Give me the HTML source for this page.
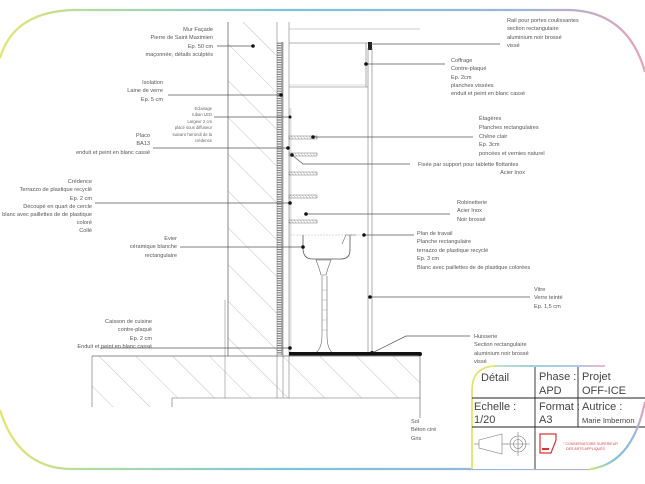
<!DOCTYPE html>
<html><head><meta charset="utf-8"><style>
html,body{margin:0;padding:0;background:#fff;}
svg{display:block;font-family:"Liberation Sans",sans-serif;}
.t{font-size:5.6px;fill:#555;}
.s{font-size:4.2px;fill:#666;}
.b{font-size:11px;fill:#444;}
.m{font-size:7.5px;fill:#444;}
</style></head><body>
<svg width="645" height="484" viewBox="0 0 645 484">
<defs>
<linearGradient id="g" x1="0" x2="1" y1="0" y2="0">
<stop offset="0" stop-color="#e4e66a"/><stop offset="0.12" stop-color="#b8dca0"/><stop offset="0.45" stop-color="#7cc3dc"/><stop offset="0.8" stop-color="#9ab8d8"/><stop offset="1" stop-color="#e6a2b8"/>
</linearGradient>
<pattern id="h" width="26" height="26" patternUnits="userSpaceOnUse" patternTransform="rotate(-45)">
<line x1="0" y1="0" x2="0" y2="26" stroke="#888" stroke-width="0.5"/></pattern>
<pattern id="ins" width="6" height="2.4" patternUnits="userSpaceOnUse">
<rect x="0.5" y="0.3" width="5" height="1.8" fill="none" stroke="#666" stroke-width="0.5"/></pattern>
<pattern id="sh" width="3" height="4" patternUnits="userSpaceOnUse"><line x1="0" y1="0" x2="3" y2="4" stroke="#999" stroke-width="0.5"/></pattern>
</defs>
<!-- frame -->
<path d="M0,58 Q14,11 75,10 L570,10 Q628,12 645,72" fill="none" stroke="url(#g)" stroke-width="2.2"/>
<path d="M0,410 Q18,468 70,469 L590,469 Q632,464 645,402" fill="none" stroke="url(#g)" stroke-width="2.2"/>

<!-- wall -->
<rect x="228" y="22" width="49" height="334" fill="url(#h)"/>
<line x1="228" y1="22" x2="228" y2="356" stroke="#555" stroke-width="0.7"/>
<line x1="225" y1="300" x2="225" y2="407" stroke="#777" stroke-width="0.5"/>
<rect x="277" y="42" width="6" height="313" fill="url(#ins)"/>
<line x1="277" y1="22" x2="277" y2="407" stroke="#666" stroke-width="0.5"/>
<line x1="283" y1="42" x2="283" y2="407" stroke="#666" stroke-width="0.5"/>
<line x1="289" y1="22" x2="289" y2="407" stroke="#666" stroke-width="0.5"/>
<rect x="289.5" y="108" width="2" height="245" fill="#e2e2e2"/>
<!-- coffrage -->
<line x1="289" y1="29" x2="420" y2="29" stroke="#999" stroke-width="0.6"/>
<line x1="289" y1="43" x2="368" y2="43" stroke="#666" stroke-width="0.6"/>
<line x1="289" y1="87" x2="368" y2="87" stroke="#777" stroke-width="0.6"/>
<line x1="289" y1="85" x2="366" y2="85" stroke="#bbb" stroke-width="0.5"/>
<line x1="366" y1="43" x2="366" y2="87" stroke="#777" stroke-width="0.6"/>
<rect x="368" y="42" width="4" height="8" fill="#222"/>
<line x1="368" y1="48" x2="368" y2="352" stroke="#777" stroke-width="0.6"/>
<line x1="372" y1="48" x2="372" y2="352" stroke="#777" stroke-width="0.6"/>
<!-- shelves -->
<g stroke="#777" stroke-width="0.5">
<rect x="289" y="136" width="28" height="3" fill="url(#sh)"/>
<rect x="289" y="153" width="28" height="3" fill="url(#sh)"/>
<rect x="289" y="172" width="28" height="3" fill="url(#sh)"/>
<rect x="289" y="195" width="28" height="3" fill="url(#sh)"/>
<rect x="289" y="220" width="28" height="3" fill="url(#sh)"/>
</g>
<!-- sink -->
<path d="M303,235 L303,250 Q304,259 312,259 L341,259 Q350,259 350,250 L350,235" fill="none" stroke="#555" stroke-width="0.8"/>
<line x1="290" y1="235" x2="365" y2="235" stroke="#bbb" stroke-width="0.5" stroke-dasharray="2,1"/>
<path d="M316,260 L331,260 L328,268 L326,275 L321,275 L319,268 Z" fill="none" stroke="#666" stroke-width="0.6"/>
<path d="M322,276 L322,335 Q322,350 314,354 L334,354 Q327,350 327,335 L327,276" fill="none" stroke="#666" stroke-width="0.6"/>
<g stroke="#999" stroke-width="0.4"><line x1="322" y1="290" x2="327" y2="290"/><line x1="322" y1="300" x2="327" y2="300"/><line x1="322" y1="310" x2="327" y2="310"/><line x1="322" y1="320" x2="327" y2="320"/><line x1="322" y1="330" x2="327" y2="330"/></g>
<path d="M342,244 L346,235 L356,235" fill="none" stroke="#666" stroke-width="0.6"/>

<!-- slab -->
<rect x="92" y="356" width="328" height="51" fill="url(#h)"/>
<rect x="172" y="398" width="248" height="12" fill="#fff"/>
<line x1="92" y1="356" x2="420" y2="356" stroke="#666" stroke-width="0.7"/>
<line x1="92" y1="356" x2="92" y2="407" stroke="#666" stroke-width="0.6"/>
<line x1="172" y1="398" x2="420" y2="398" stroke="#666" stroke-width="0.6"/>
<line x1="172" y1="398" x2="172" y2="407" stroke="#666" stroke-width="0.6"/>
<line x1="420" y1="356" x2="420" y2="418" stroke="#555" stroke-width="0.6"/>
<rect x="289" y="352" width="131" height="3.5" fill="#111"/>
<circle cx="420" cy="354" r="2" fill="#111"/>

<!-- leaders -->
<g stroke="#555" stroke-width="0.7" fill="none">
<line x1="217" y1="46" x2="253" y2="46"/>
<line x1="168" y1="95" x2="281" y2="95"/>
<line x1="214" y1="117" x2="290" y2="117"/>
<line x1="153" y1="148" x2="288" y2="148"/>
<line x1="95" y1="203" x2="290" y2="203"/>
<line x1="180" y1="247" x2="303" y2="247"/>
<line x1="100" y1="348" x2="290" y2="348"/>
<line x1="370" y1="44" x2="500" y2="44"/>
<line x1="366" y1="64" x2="445" y2="64"/>
<line x1="313" y1="137" x2="473" y2="137"/>
<polyline points="292,155 303,164 410,164"/>
<line x1="306" y1="214" x2="450" y2="214"/>
<line x1="364" y1="235" x2="414" y2="235"/>
<line x1="370" y1="297" x2="530" y2="297"/>
<polyline points="372,353 406,336 470,336"/>
</g>
<g fill="#111">
<circle cx="253" cy="46" r="1.8"/><circle cx="281" cy="95" r="1.8"/><circle cx="290" cy="117" r="1.5"/>
<circle cx="288" cy="148" r="1.8"/><circle cx="290" cy="203" r="1.8"/><circle cx="303" cy="247" r="1.8"/>
<circle cx="290" cy="348" r="1.8"/><circle cx="366" cy="64" r="1.8"/><circle cx="313" cy="137" r="1.8"/>
<circle cx="292" cy="155" r="1.8"/><circle cx="306" cy="214" r="1.8"/><circle cx="364" cy="235" r="1.8"/>
<circle cx="370" cy="297" r="1.8"/><circle cx="372" cy="353" r="2"/>
</g>

<!-- left labels -->
<g class="t" text-anchor="end">
<text x="213" y="31">Mur Façade</text><text x="213" y="39">Pierre de Saint Maximien</text><text x="213" y="48">Ep. 50 cm</text><text x="213" y="56">maçonnée, détails sculptés</text>
<text x="163" y="84">Isolation</text><text x="163" y="92">Laine de verre</text><text x="163" y="101">Ep. 5 cm</text>
<text x="150" y="137">Placo</text><text x="150" y="145">BA13</text><text x="150" y="154">enduit et peint en blanc cassé</text>
<text x="92" y="183">Crédence</text><text x="92" y="191">Terrazzo de plastique recyclé</text><text x="92" y="200">Ep. 2 cm</text><text x="92" y="208">Découpé en quart de cercle</text><text x="92" y="216">blanc avec paillettes de de plastique</text><text x="92" y="224">coloré</text><text x="92" y="232">Collé</text>
<text x="177" y="240">Evier</text><text x="177" y="248">céramique blanche</text><text x="177" y="257">rectangulaire</text>
<text x="152" y="323">Caisson de cuisine</text><text x="152" y="331">contre-plaqué</text><text x="152" y="340">Ep. 2 cm</text><text x="152" y="348">Enduit et peint en blanc cassé</text>
</g>
<g class="s" text-anchor="end">
<text x="212" y="110">Eclairage</text><text x="212" y="116">ruban LED</text><text x="212" y="123">Largeur 2 cm</text><text x="212" y="129">placé sous diffuseur</text><text x="212" y="136">suivant l'arrondi de la</text><text x="212" y="142">crédence</text>
</g>
<!-- right labels -->
<g class="t">
<text x="507" y="22">Rail pour portes coulissantes</text><text x="507" y="30">section rectangulaire</text><text x="507" y="39">aluminium noir brossé</text><text x="507" y="47">vissé</text>
<text x="451" y="62">Coffrage</text><text x="451" y="70">Contre-plaqué</text><text x="451" y="79">Ep. 2cm</text><text x="451" y="87">planches vissées</text><text x="451" y="95">enduit et peint en blanc cassé</text>
<text x="479" y="120">Étagères</text><text x="479" y="129">Planches rectangulaires</text><text x="479" y="138">Chêne clair</text><text x="479" y="146">Ep. 3cm</text><text x="479" y="155">poncées et vernies naturel</text>
<text x="418" y="166">Fixée par support pour tablette flottantes</text><text x="525" y="174" text-anchor="end">Acier Inox</text>
<text x="457" y="204">Robinetterie</text><text x="457" y="212">Acier Inox</text><text x="457" y="221">Noir brossé</text>
<text x="417" y="235">Plan de travail</text><text x="417" y="243">Planche rectangulaire</text><text x="417" y="252">terrazzo de plastique recyclé</text><text x="417" y="260">Ep. 3 cm</text><text x="417" y="269">Blanc avec paillettes de de plastique colorées</text>
<text x="534" y="291">Vitre</text><text x="534" y="299">Verre teinté</text><text x="534" y="308">Ep. 1,5 cm</text>
<text x="474" y="338">Huisserie</text><text x="474" y="346">Section rectangulaire</text><text x="474" y="355">aluminium noir brossé</text><text x="474" y="363">vissé</text>
<text x="411" y="423">Sol</text><text x="411" y="431">Béton ciré</text><text x="411" y="440">Gris</text>
</g>

<!-- title block -->
<rect x="472" y="367" width="175" height="102" fill="#fff"/>
<path d="M472,469 L472,390 Q472,367 495,366 L605,366" fill="none" stroke="url(#g)" stroke-width="1.6"/>
<path d="M472,469 L472,390 Q472,367 495,366" fill="none" stroke="#e2e46a" stroke-width="1.6"/>
<g stroke="#222" stroke-width="0.9">
<line x1="535" y1="367" x2="535" y2="469"/><line x1="578" y1="367" x2="578" y2="427"/>
<line x1="472" y1="398" x2="645" y2="398"/><line x1="472" y1="427" x2="645" y2="427"/>
</g>
<g class="b">
<text x="481" y="381">Détail</text><text x="539" y="380">Phase :</text><text x="539" y="394">APD</text>
<text x="582" y="380">Projet</text><text x="582" y="394">OFF-ICE</text>
<text x="474" y="410">Echelle :</text><text x="474" y="423">1/20</text>
<text x="539" y="410">Format :</text><text x="539" y="423">A3</text>
<text x="582" y="410">Autrice :</text>
</g>
<text x="582" y="423" class="m">Marie Imbernon</text>
<g stroke="#777" stroke-width="0.6" fill="none">
<path d="M479,440 L502,434 L502,454 L479,448 Z"/><line x1="474" y1="444" x2="479" y2="444"/><line x1="502" y1="444" x2="508" y2="444"/>
<circle cx="518" cy="444" r="8"/><circle cx="518" cy="444" r="4.5"/><line x1="506" y1="444" x2="530" y2="444"/><line x1="518" y1="432" x2="518" y2="456"/>
</g>
<path d="M540,434 L556,434 L556,440 L551,453 L540,453 Z" fill="none" stroke="#d33" stroke-width="1.2"/>
<rect x="542" y="448" width="7" height="2" fill="#d33"/>
<text x="563" y="445" style="font-size:3.6px;fill:#d44">° CONSERVATOIRE SUPÉRIEUR</text>
<text x="566" y="450" style="font-size:3.6px;fill:#d44">DES ARTS APPLIQUÉS</text>
<path d="M590,469 Q632,464 645,402" fill="none" stroke="url(#g)" stroke-width="2.2"/>
</svg>
</body></html>
